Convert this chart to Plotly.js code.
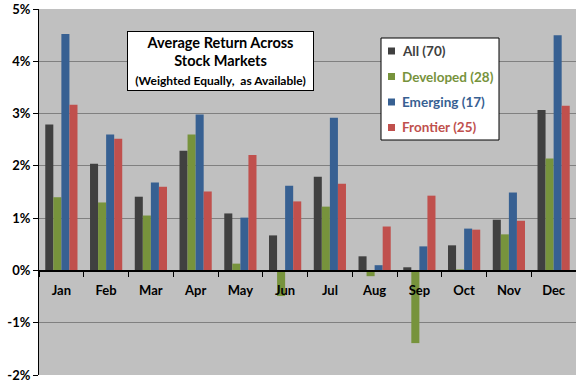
<!DOCTYPE html>
<html>
<head>
<meta charset="utf-8">
<script src="https://cdn.plot.ly/plotly-3.0.1.min.js"></script>
<style>html,body{margin:0;padding:0;background:#fff;}#chart{width:576px;height:384px;}</style>
</head>
<body>
<div id="chart"></div>
<script>
var months = ['Jan','Feb','Mar','Apr','May','Jun','Jul','Aug','Sep','Oct','Nov','Dec'];
var allMarkets = [2.79, 2.04, 1.41, 2.29, 1.09, 0.67, 1.79, 0.27, 0.06, 0.48, 0.97, 3.07];
var developed  = [1.40, 1.30, 1.05, 2.60, 0.13, -0.49, 1.22, -0.11, -1.39, 0.02, 0.69, 2.14];
var emerging   = [4.52, 2.60, 1.68, 2.98, 1.01, 1.62, 2.92, 0.10, 0.46, 0.80, 1.49, 4.50];
var frontier   = [3.17, 2.52, 1.60, 1.51, 2.21, 1.32, 1.66, 0.84, 1.43, 0.78, 0.95, 3.15];
var seriesNames = ['All (70)', 'Developed (28)', 'Emerging (17)', 'Frontier (25)'];
var seriesColors = ['#404040', '#77933C', '#376092', '#C0504D'];
var yTicks = [-2, -1, 0, 1, 2, 3, 4, 5];
var yTickText = ['-2%', '-1%', '0%', '1%', '2%', '3%', '4%', '5%'];

var font = 'Lato, "Open Sans", sans-serif';

var data = [allMarkets, developed, emerging, frontier].map(function(v, i) {
  return {
    type: 'bar', x: months, y: v, name: seriesNames[i],
    marker: {color: seriesColors[i], line: {width: 0}},
    showlegend: false
  };
});

// pixel -> paper helpers (plot area: x 39..576, y 9..375)
var T = 9, B = 375, L = 39, R = 576;
function px(x) { return (x - L) / (R - L); }
function py(y) { return (B - y) / (B - T); }

var shapes = [{
  type: 'rect', xref: 'paper', yref: 'paper',
  x0: px(381), x1: px(499), y0: py(140), y1: py(38),
  fillcolor: '#ffffff', line: {color: '#000', width: 1}, layer: 'above'
}];
var annotations = [{
  xref: 'paper', yref: 'paper', x: px(220.5), y: py(61),
  xanchor: 'center', yanchor: 'middle', showarrow: false,
  text: '<b>Average Return Across</b><br><b>Stock Markets</b><br><span style="font-size:12px"><b>(Weighted Equally,  as Available)</b></span>',
  font: {family: font, size: 14.5, color: '#000'},
  bgcolor: '#ffffff', bordercolor: '#000', borderwidth: 1, borderpad: 2,
  width: 181, height: 54, align: 'center', valign: 'middle'
}];
var legendY = [51, 76.5, 102, 127.5];
seriesNames.forEach(function(n, i) {
  shapes.push({
    type: 'rect', xref: 'paper', yref: 'paper',
    x0: px(388), x1: px(395), y0: py(legendY[i] + 3.5), y1: py(legendY[i] - 3.5),
    fillcolor: seriesColors[i], line: {width: 0}, layer: 'above'
  });
  annotations.push({
    xref: 'paper', yref: 'paper', x: px(400), y: py(legendY[i]),
    xanchor: 'left', yanchor: 'middle', showarrow: false,
    text: '<b>' + n + '</b>',
    font: {family: font, size: 13.5, color: seriesColors[i]}
  });
});

var layout = {
  width: 576, height: 384,
  margin: {l: L, r: 576 - R, t: T, b: 384 - B},
  paper_bgcolor: '#ffffff',
  plot_bgcolor: '#C0C0C0',
  barmode: 'group', bargap: 0.28, bargroupgap: 0,
  showlegend: false,
  font: {family: font, color: '#000'},
  xaxis: {
    type: 'category', anchor: 'free', position: 2/7,
    showline: true, linecolor: '#000', linewidth: 1.5,
    ticks: 'outside', tickson: 'boundaries', ticklen: 5, tickcolor: '#000',
    tickfont: {family: font, size: 13, color: '#000', weight: 'bold'},
    ticklabelstandoff: 7,
    showgrid: false, zeroline: false, fixedrange: true
  },
  yaxis: {
    range: [-2, 5], tickvals: yTicks, ticktext: yTickText,
    showline: true, linecolor: '#000', linewidth: 1,
    ticks: 'outside', ticklen: 5, tickcolor: '#000',
    tickfont: {family: font, size: 13, color: '#000', weight: 'bold'},
    showgrid: true, gridcolor: '#808080', gridwidth: 1,
    zeroline: false, fixedrange: true
  },
  shapes: shapes,
  annotations: annotations
};

Plotly.newPlot('chart', data, layout, {displayModeBar: false, staticPlot: true});
</script>
</body>
</html>
